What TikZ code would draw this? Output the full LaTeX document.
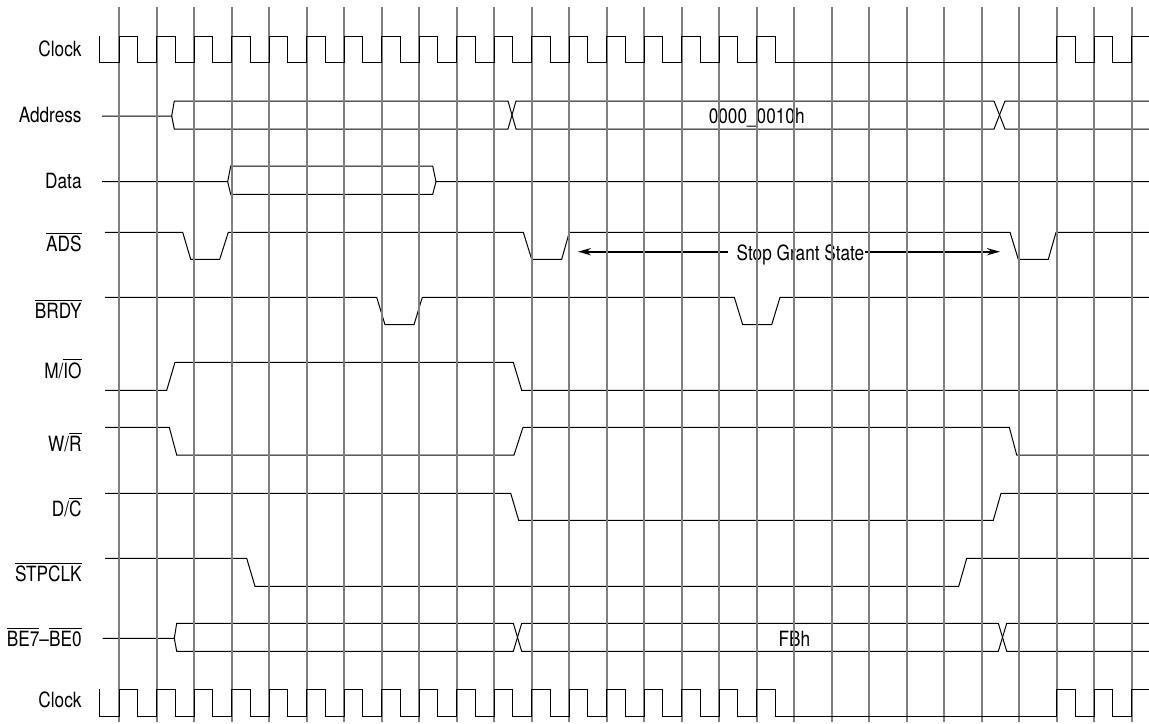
\documentclass[tikz,border=0pt]{standalone}
\usepackage{fontspec}
\setmainfont{TeX Gyre Heros}[FakeStretch=0.82]
\usetikzlibrary{arrows.meta}

\definecolor{tickgray}{RGB}{128,128,128}
\newcommand{\ovl}[1]{$\overline{\mbox{#1}}$}

\tikzset{
  sig/.style={black, line width=0.5pt},
  tick/.style={tickgray, line width=1pt},
  lbl/.style={anchor=base east, inner sep=0pt, font=\fontsize{10.5}{12}\selectfont},
  val/.style={anchor=base, inner sep=0pt, font=\fontsize{10.5}{12}\selectfont},
  sgarrow/.style={-{Stealth[length=6.5pt,width=3.6pt]}, line width=1pt}
}

\begin{document}
\begin{tikzpicture}[x=0.5pt,y=-0.5pt]
\useasboundingbox (0,0) rectangle (1149,723);

% labels
\node[lbl] (lblClock) at (82,56) {Clock};
\node[lbl] (lblAddress) at (82,122.7) {Address};
\node[lbl] (lblData) at (82,188.3) {Data};
\node[lbl] (lblADS) at (82,251.7) {\ovl{ADS}};
\node[lbl] (lblBRDY) at (82,318.3) {\ovl{BRDY}};
\node[lbl] (lblMIO) at (82,378.3) {M/\ovl{IO}};
\node[lbl] (lblWR) at (82,451.7) {W/\ovl{R}};
\node[lbl] (lblDC) at (82,516.7) {D/\ovl{C}};
\node[lbl] (lblSTPCLK) at (82,581.7) {\ovl{STPCLK}};
\node[lbl] (lblBE) at (82,646.7) {\ovl{BE7}--\ovl{BE0}};
\node[lbl] (lblClock2) at (82,707) {Clock};

% Address
\draw[sig] (102,116) -- (171.7,116) -- (174.3,101) -- (508,101) -- (516,129) -- (994,129) -- (1005,101) -- (1149,101);
\draw[sig] (171.7,116) -- (174.3,129) -- (508,129) -- (516,101) -- (994,101) -- (1005,129) -- (1149,129);
\node[val] (valAddress) at (756.7,123.3) {0000\_0010h};

% Data
\draw[sig] (102,181.7) -- (227.7,181.7) -- (230.7,166) -- (432.7,166) -- (436,181.7) -- (1149,181.7);
\draw[sig] (227.7,181.7) -- (230.7,194.3) -- (432.7,194.3) -- (436,181.7);

% ADS
\draw[sig] (105,232.3) -- (182.7,232.3) -- (190.7,259.3) -- (219.7,259.3) -- (228.3,232.3) -- (523.3,232.3) -- (531.7,259.3) -- (561.7,259.3) -- (569.3,232.3) -- (1010,232.3) -- (1018.3,259.3) -- (1048.3,259.3) -- (1056,232.3) -- (1149,232.3);
\node[val] (sgText) at (800.5,260) {Stop Grant State};
\coordinate (sgLeft) at (578,251.7);
\coordinate (sgRight) at (1000,251.7);
\draw[sgarrow] ([xshift=-4pt]sgText.west |- sgLeft) -- (sgLeft);
\draw[sgarrow] (sgText.east |- sgRight) -- (sgRight);

% BRDY
\draw[sig] (105,297.3) -- (376.7,297.3) -- (385,324.7) -- (414,324.7) -- (422.3,297.3) -- (734.3,297.3) -- (742.7,324.7) -- (771.7,324.7) -- (780,297.3) -- (1149,297.3);

% M/IO
\draw[sig] (105,390.3) -- (166.7,390.3) -- (175,362.3) -- (513.3,362.3) -- (521.7,390.3) -- (1149,390.3);

% W/R
\draw[sig] (105,427.3) -- (169.3,427.3) -- (176.7,455) -- (514,455) -- (523,427.3) -- (1009.3,427.3) -- (1016.7,455) -- (1149,455);

% D/C
\draw[sig] (105,493.3) -- (510.7,493.3) -- (518.7,520.3) -- (993.3,520.3) -- (1001,493.3) -- (1149,493.3);

% STPCLK
\draw[sig] (105,558.3) -- (246.7,558.3) -- (255,586.3) -- (958.7,586.3) -- (966.7,558.3) -- (1149,558.3);

% BE7-BE0
\draw[sig] (102.7,638.3) -- (174.3,638.3) -- (176.7,623.3) -- (513.3,623.3) -- (521.7,651.3) -- (998.3,651.3) -- (1006.7,623.3) -- (1149,623.3);
\draw[sig] (174.3,638.3) -- (176.7,651.3) -- (513.3,651.3) -- (521.7,623.3) -- (998.3,623.3) -- (1006.7,651.3) -- (1149,651.3);
\node[val] (valBE) at (794.5,646) {FBh};

% clock ticks
\foreach \k in {0,...,27}
  \draw[tick] ({119+37.5*\k},6.7) -- ({119+37.5*\k},722);

% clocks
\foreach \hi/\lo in {36/62.7, 689/716.3} {
  \draw[sig] (99,\hi) -- (99,\lo)
    \foreach \k in {0,...,17,25,26} { -- ({119+37.5*\k},\lo) -- ({119+37.5*\k},\hi) -- ({137.5+37.5*\k},\hi) -- ({137.5+37.5*\k},\lo) }
    -- (1131.5,\lo) -- (1131.5,\hi) -- (1149,\hi);
}
\end{tikzpicture}
\end{document}
